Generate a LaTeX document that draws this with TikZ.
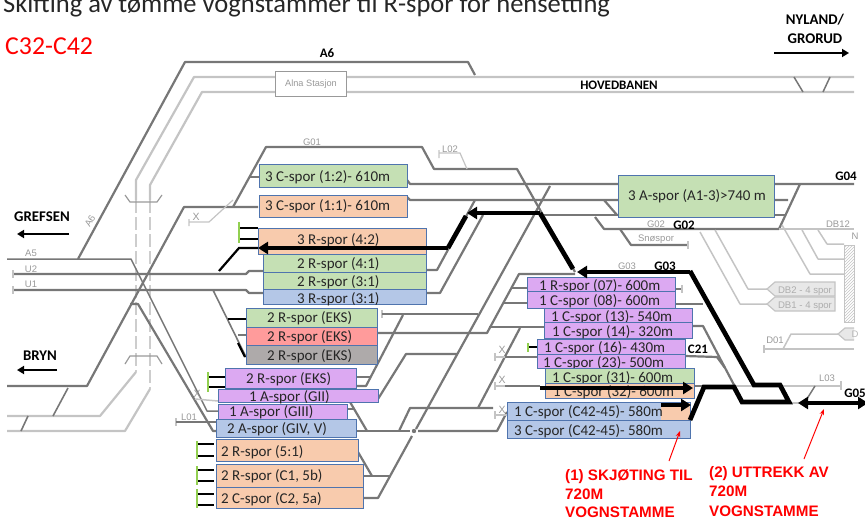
\documentclass[tikz,border=0pt]{standalone}
\usepackage{fontspec}
\setmainfont{Carlito}
\newfontfamily\arialf{Liberation Sans}
\usetikzlibrary{arrows.meta,patterns}
\definecolor{bgreen}{HTML}{C5E0B4}
\definecolor{borange}{HTML}{F8CBAD}
\definecolor{bblue}{HTML}{B4C7E7}
\definecolor{bpurple}{HTML}{DCA9F2}
\definecolor{bred}{HTML}{FF9B9B}
\definecolor{bgray}{HTML}{AEAAAA}
\definecolor{bedge}{HTML}{4F74AE}
\definecolor{trk}{HTML}{777777}
\definecolor{ltrk}{HTML}{C4C4C4}
\definecolor{lbl}{HTML}{999999}
\definecolor{gtk}{HTML}{92D050}
\tikzset{
 trackline/.style={draw=trk,line width=2.2pt,line join=round},
 lighttrack/.style={draw=ltrk,line width=2.2pt,line join=round},
 thintrack/.style={draw=ltrk,line width=1.2pt},
 dashtrack/.style={draw=ltrk!85,line width=2.2pt,dash pattern=on 13pt off 4pt},
 stub/.style={draw=black,line width=2.2pt},
 gtick/.style={draw=gtk,line width=1.3pt},
 heavy/.style={draw=black,line width=4.7pt,line join=miter},
 heavytip/.style={heavy,-{Triangle[length=10pt,width=12pt]}},
 boxtext/.style={anchor=base west,inner sep=0pt,font=\fontsize{15}{16}\selectfont,text=black!85},
 smallgray/.style={anchor=base,inner sep=0pt,font=\arialf\fontsize{9.5}{10}\selectfont,text=lbl},
 boldlabel/.style={anchor=base,inner sep=0pt,font=\bfseries\fontsize{13}{14}\selectfont},
 bigbold/.style={anchor=base,inner sep=0pt,font=\bfseries\fontsize{14.8}{16}\selectfont},
 redlabel/.style={anchor=base west,inner sep=0pt,font=\arialf\bfseries\fontsize{15.2}{16}\selectfont,text=red},
 redarrow/.style={draw=red,line width=1pt,-{Stealth[length=6pt,width=4.5pt]}},
 navarrow/.style={draw=black,line width=1.8pt,-{Triangle[length=7pt,width=8pt]}},
 tag/.style={draw=ltrk,fill=black!9,line width=1.2pt},
}
\newcommand{\bx}[8]{%
 \path[fill=#6,draw=bedge,line width=1pt] (#2,#3) rectangle (#4,#5);
 \node[boxtext] (#1) at (#7,#8) {\strut};}
\newcommand{\bxt}[9]{%
 \path[fill=#6,draw=bedge,line width=1pt] (#2,#3) rectangle (#4,#5);
 \node[boxtext] (#1) at (#7,#8) {#9};}
\begin{document}
\begin{tikzpicture}[x=1pt,y=-1pt]
\useasboundingbox (0,0) rectangle (865,519);
\clip (0,0) rectangle (865,519);
% title
\node[anchor=base west,inner sep=0pt,font=\fontsize{26.5}{28}\selectfont,text=black!85] (title) at (3,12.5) {Skifting av tømme vognstammer til R-spor for hensetting};
\node[anchor=base west,inner sep=0pt,font=\fontsize{25.8}{28}\selectfont,text=red] (sub) at (5,55) {C32-C42};
% light tracks
\draw[lighttrack] (136,200)--(136,180)--(194,77)--(854,77);
\draw[lighttrack] (150,200)--(150,185)--(202,92)--(854,92);
\draw[dashtrack] (136,200)--(136,372);
\draw[dashtrack] (150,200)--(150,389);
\draw[lighttrack] (7,416)--(100,416)--(136,372);
\draw[lighttrack] (7,431)--(125,431)--(150,389);
\draw[thintrack,draw=lbl] (125,195)--(130,202)--(157,202)--(162,195);
\draw[thintrack,draw=lbl] (125,364)--(130,356)--(157,356)--(162,364);
% Alna
\node[draw=lbl,fill=white,line width=1.2pt,minimum width=71pt,minimum height=25pt,inner sep=0pt,font=\arialf\fontsize{9.2}{10}\selectfont,text=lbl] (alna) at (311,84) {Alna Stasjon};
% dark tracks left
\draw[trackline] (78,259)--(185,62)--(468,62)--(475,75);
\draw[trackline,line width=1.5pt] (7,259)--(131,259)--(207,411)--(218,411);
\draw[trackline] (130,304)--(138,304)--(213,431)--(218,431);
\draw[trackline] (7,386)--(87,386)--(184,207)--(258,207);
\draw[trackline,line width=1.6pt] (68,388)--(53,416);
\draw[trackline,line width=1.6pt] (28,416)--(21,431);
\draw[trackline] (13,274)--(246,274)--(249,271)--(263,271);
\draw[trackline] (13,290)--(246,290)--(249,293)--(263,293);
\draw[thintrack] (13,270)--(13,278) (13,286)--(13,294);
\draw[trackline,line width=1.6pt] (213,290)--(246,357);
\draw[trackline] (238,335)--(246,335);
\draw[stub] (228,319)--(246,319);
\draw[stub] (238,343)--(245,357);
\draw[stub] (219,271)--(239,248)--(258,248);
\draw[stub] (240,228)--(258,228) (240,239)--(258,239);
\draw[gtick] (239,222)--(239,243);
% G01
\draw[thintrack] (189,219)--(189,226) (189,222)--(209,222)--(233,200);
\node[smallgray,font=\arialf\fontsize{10.5}{10}\selectfont] (x1) at (196,220) {X};
\draw[trackline] (233,207)--(266,147)--(422,147)--(434,169)--(517,169)--(575,272);
\draw[trackline] (250,177)--(259,177);
\draw[thintrack] (439,150)--(439,158) (439,153)--(460,153)--(467,169);
% long upper tracks
\draw[trackline] (407,180)--(410,184)--(854,184);
\draw[trackline] (407,197)--(410,200)--(788,200);
\draw[trackline] (539,215)--(785,215);
\draw[trackline] (604,200)--(617,215);
\draw[trackline] (595,217)--(604,229)--(779,229)--(800,184);
\draw[trackline] (620,229)--(631,245)--(688,245);
\draw[thintrack] (688,241)--(688,249);
\draw[trackline] (475,200)--(437,270)--(426,270);
\draw[trackline] (483,215)--(440,293)--(426,293);
% long diagonal
\draw[trackline] (550,186)--(416,429);
\draw[trackline] (412,436)--(378,498)--(363,498);
% mid tracks
\draw[thintrack] (382,310)--(382,318);
\draw[trackline] (382,314)--(478,314);
\draw[trackline] (378,333)--(487,333)--(519,274)--(575,274);
\draw[trackline] (489,327)--(544,327);
\draw[trackline] (511,288)--(527,288);
\draw[trackline] (503,303)--(527,303);
\draw[trackline] (403,315)--(366,386)--(356,386);
\draw[trackline] (357,377)--(371,377);
\draw[trackline] (378,399)--(406,354)--(457,354);
\draw[trackline] (350,402)--(367,431);
\draw[trackline] (347,409)--(354,409);
\draw[trackline] (356,431)--(410,431);
\draw[trackline] (418,431)--(497,431)--(507,412);
\fill[trk] (414,431) circle (2.2pt);
\draw[trackline] (399,431)--(410,408)--(493,408);
\draw[trackline] (520,328)--(478,408);
\draw[trackline] (358,452)--(372,476);
\draw[trackline] (363,476)--(390,476);
\draw[trackline] (505,357)--(537,357);
\draw[thintrack] (495,353)--(495,361);\draw[thintrack,line width=2pt] (495,357)--(505,357);
\draw[trackline] (505,386)--(540,386);
\draw[thintrack] (495,382)--(495,390);\draw[thintrack,line width=2pt] (495,386)--(505,386);
\draw[thintrack] (495,411)--(495,419);\draw[thintrack,line width=2pt] (495,415)--(507,415);
\node[smallgray,font=\arialf\fontsize{10.5}{10}\selectfont] (x3) at (502,353) {X};
\node[smallgray,font=\arialf\fontsize{10.5}{10}\selectfont] (x4) at (502,383) {X};
\node[smallgray,font=\arialf\fontsize{10.5}{10}\selectfont] (x5) at (502,413) {X};
% left lower
\draw[thintrack,line width=1.5pt] (195,399)--(218,401);
\node[smallgray,font=\arialf\fontsize{10.5}{10}\selectfont] (x2) at (197,397) {X};
\draw[thintrack] (176,418)--(176,426);
\draw[trackline,line width=1.6pt] (176,422)--(216,422);
\draw[stub] (208,377)--(225,377) (208,387)--(225,387);
\draw[gtick] (208,372)--(208,392);
\draw[stub] (197,444)--(214,444) (197,456)--(214,456) (197,470)--(214,470) (197,481)--(214,481) (197,494)--(214,494) (197,505)--(214,505);
\draw[gtick] (197,441)--(197,459) (197,466)--(197,485) (197,489)--(197,508);
% right side
\draw[trackline] (675,289)--(682,289);
\draw[thintrack] (682,285)--(682,293);
\draw[trackline] (675,304)--(703,304);
\draw[trackline] (692,326)--(703,326)--(743,402);
\draw[trackline] (685,356)--(717,357)--(725,368);
\draw[lighttrack] (694,386)--(841,386);
\draw[trackline] (694,386)--(734,386);
\draw[thintrack] (841,381)--(841,390);
\draw[trackline,line width=1.5pt] (794,77)--(803,92);
\draw[trackline,line width=1.5pt] (830,77)--(823,92);
\draw[trackline,line width=1.5pt] (805,402)--(815,386);
\draw[lighttrack] (789,403)--(800,403);
% light right
\draw[lighttrack,line width=1.5pt] (779,229)--(854,229);
\draw[lighttrack,line width=1.5pt] (818,230)--(827,244)--(844,244);
\draw[lighttrack,line width=1.5pt] (802,230)--(818,259)--(844,259);
\draw[lighttrack,line width=1.5pt] (782,225)--(810,274)--(844,274);
\draw[lighttrack,line width=1.5pt] (715,230)--(748,289)--(767,289);
\draw[lighttrack,line width=1.5pt] (700,232)--(740,304)--(767,304);
\path[tag] (767,289)--(775,282)--(835,282)--(835,296)--(775,296)--cycle;
\path[tag] (767,304)--(775,297)--(835,297)--(835,311)--(775,311)--cycle;
\node[smallgray,font=\arialf\fontsize{9.6}{10}\selectfont,text=black!32] (db2) at (805,293) {DB2 - 4 spor};
\node[smallgray,font=\arialf\fontsize{9.6}{10}\selectfont,text=black!32] (db1) at (805,308) {DB1 - 4 spor};
\path[draw=ltrk,pattern=north east lines,pattern color=ltrk] (844,245) rectangle (854,322);
\draw[lighttrack,line width=1.5pt] (764,349)--(854,349);
\draw[thintrack] (764,345)--(764,353);
\draw[lighttrack,line width=1.5pt] (783,349)--(791,334)--(838,334);
\path[tag] (854,328)--(845,328)--(838,334)--(845,340)--(854,340);
\node[smallgray,text=black!28] (dtag) at (855,337) {D};
\node[smallgray,text=black!40] (nlab) at (855,239) {N};
% boxes
\bxt{b1}{259}{164}{407}{187}{bgreen}{265}{181}{3 C-spor (1:2)- 610m}
\bxt{b2}{259}{195}{407}{217}{borange}{265}{210}{3 C-spor (1:1)- 610m}
\bxt{b3}{258}{228}{426}{254}{borange}{297}{244}{3 R-spor (4:2)}
\bxt{b4}{263}{254}{426}{272}{bgreen}{297}{268}{2 R-spor (4:1)}
\bxt{b5}{263}{272}{426}{289}{bgreen}{297}{286}{2 R-spor (3:1)}
\bxt{b6}{263}{289}{426}{304}{bblue}{297}{303}{3 R-spor (3:1)}
\bxt{b7}{246}{308}{377}{327}{bgreen}{267}{322}{2 R-spor (EKS)}
\bxt{b8}{246}{327}{377}{345}{bred}{267}{341}{2 R-spor (EKS)}
\bxt{b9}{246}{345}{377}{364}{bgray}{267}{360}{2 R-spor (EKS)}
\bxt{b10}{225}{368}{356}{388}{bpurple}{246}{383}{2 R-spor (EKS)}
\bxt{b11}{218}{389}{378}{402}{bpurple}{249}{401}{1 A-spor (GII)}
\bxt{b12}{218}{404}{347}{419}{bpurple}{229}{416}{1 A-spor (GIII)}
\bxt{b13}{216}{419}{356}{437}{bblue}{227}{433}{2 A-spor (GIV, V)}
\bxt{b14}{216}{439}{358}{461}{borange}{221}{456}{2 R-spor (5:1)}
\bxt{b15}{216}{464}{363}{487}{borange}{221}{480}{2 R-spor (C1, 5b)}
\bxt{b16}{216}{487}{363}{508}{borange}{221}{503}{2 C-spor (C2, 5a)}
\bxt{b17}{618}{175}{774}{217}{bgreen}{628}{200}{3 A-spor (A1-3)>740 m}
\bxt{b18}{527}{277}{675}{291}{bpurple}{539}{290}{1 R-spor (07)- 600m}
\bxt{b19}{527}{291}{675}{308}{bpurple}{539}{305}{1 C-spor (08)- 600m}
\bxt{b20}{544}{308}{692}{322}{bpurple}{551}{321}{1 C-spor (13)- 540m}
\bxt{b21}{544}{322}{692}{338}{bpurple}{552}{336}{1 C-spor (14)- 320m}
\bxt{b22}{537}{339}{685}{354}{bpurple}{544}{352}{1 C-spor (16)- 430m}
\bxt{b23}{537}{354}{685}{368}{bpurple}{543}{367}{1 C-spor (23)- 500m}
\bxt{b24}{545}{368}{694}{383}{bgreen}{552}{382}{1 C-spor (31)- 600m}
\bxt{b25}{545}{383}{694}{398}{borange}{553}{396}{1 C-spor (32)- 600m}
\bx{b26}{507}{402}{690}{420}{bblue}{514}{416}
\path[fill=borange] (661,403) rectangle (690,420);
\node[boxtext] (b26t) at (514,416) {1 C-spor (C42-45)- 580m};
\bxt{b27}{507}{420}{690}{438}{bblue}{514}{435}{3 C-spor (C42-45)- 580m}
\draw[stub] (528,347)--(537,347);
\draw[gtick] (528,343)--(528,352);
% heavy route
\draw[heavytip] (448,248)--(258,248);
\draw[heavy] (448,248)--(466,216);
\draw[heavytip] (540,213)--(467,213);
\draw[heavy] (540,213)--(573,269);
\draw[heavytip] (690,272)--(577,272);
\draw[heavy] (690,271)--(754,385)--(780,385)--(789,402)--(742,402)--(734,387)--(704,387)--(690,420);
\draw[heavytip] (540,388)--(693,388);
\draw[heavytip] (661,405)--(691,405);
\draw[heavy,{Triangle[length=10pt,width=12pt]}-{Triangle[length=10pt,width=12pt]}] (798,403)--(868,403);
% labels
\node[boldlabel] (la6) at (327,58) {A6};
\node[boldlabel] (hov) at (619,89) {HOVEDBANEN};
\node[bigbold] (ny) at (815,25) {NYLAND/};
\node[bigbold] (gr) at (815,44) {GRORUD};
\coordinate (nyA) at (774,53); \coordinate (nyB) at (849,53);
\draw[navarrow] (nyA)--(nyB);
\node[bigbold] (gref) at (42,221) {GREFSEN};
\coordinate (grA) at (69,234); \coordinate (grB) at (17,234);
\draw[navarrow] (grA)--(grB);
\node[bigbold] (bryn) at (40,360) {BRYN};
\coordinate (brA) at (57,370); \coordinate (brB) at (17,370);
\draw[navarrow] (brA)--(brB);
\node[boldlabel] (g04) at (846,180) {G04};
\node[boldlabel] (g02b) at (684,229) {G02};
\node[boldlabel] (g03) at (665,270) {G03};
\node[boldlabel] (c21) at (698,353) {C21};
\node[boldlabel] (g05) at (855,397) {G05};
\node[smallgray,anchor=center,rotate=60] (ga6) at (90,221) {A6};
\node[smallgray] (ga5) at (31,256) {A5};
\node[smallgray] (gu2) at (31,272) {U2};
\node[smallgray] (gu1) at (31,287) {U1};
\node[smallgray] (gg01) at (312,145) {G01};
\node[smallgray] (gl02) at (450,152) {L02};
\node[smallgray] (gl01) at (189,420) {L01};
\node[smallgray] (gg02) at (656,227) {G02};
\node[smallgray] (gsn) at (656,241) {Snøspor};
\node[smallgray] (gg03) at (627,269) {G03};
\node[smallgray] (gdb12) at (838,227) {DB12};
\node[smallgray] (gd01) at (775,343) {D01};
\node[smallgray] (gl03) at (827,381) {L03};
% red notes
\node[redlabel] (r1a) at (565,480) {(1) SKJØTING TIL};
\node[redlabel] (r1b) at (565,499) {720M};
\node[redlabel] (r1c) at (565,517) {VOGNSTAMME};
\node[redlabel] (r2a) at (709,477) {(2) UTTREKK  AV};
\node[redlabel] (r2b) at (709,496) {720M};
\node[redlabel] (r2c) at (709,516) {VOGNSTAMME};
\coordinate (ra1) at (669,461); \coordinate (ra2) at (680,431);
\coordinate (rb1) at (804,459); \coordinate (rb2) at (824,409);
\draw[redarrow] (ra1)--(ra2);
\draw[redarrow] (rb1)--(rb2);
\end{tikzpicture}
\end{document}
